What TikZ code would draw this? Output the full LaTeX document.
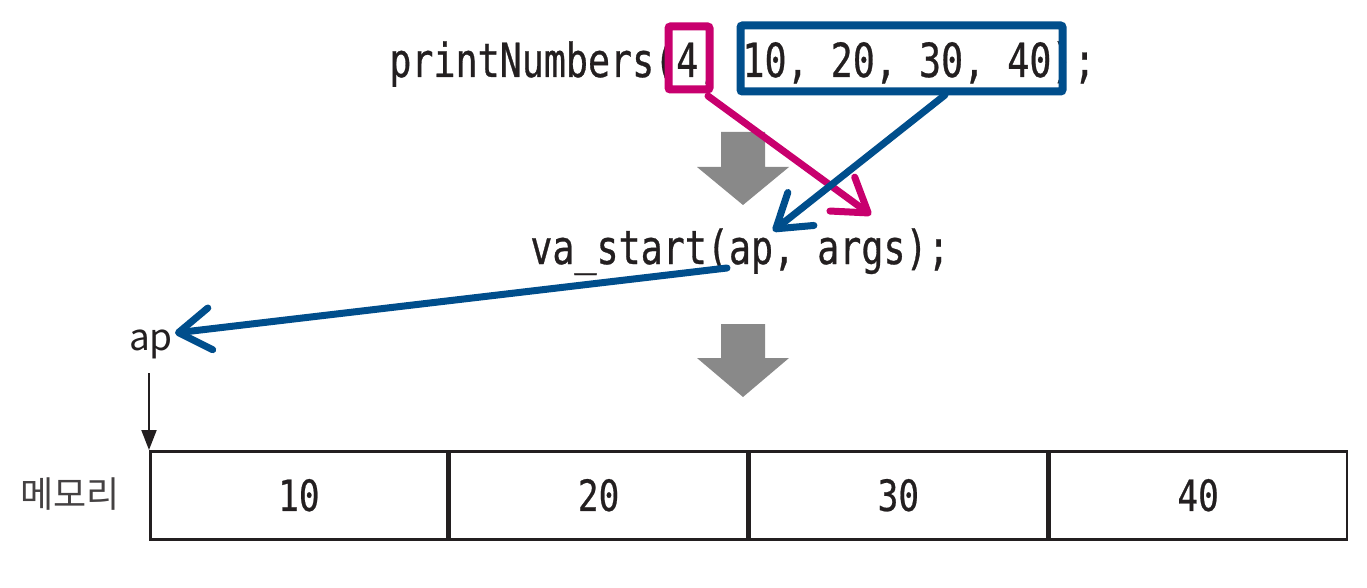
\documentclass[tikz,border=0pt]{standalone}
\usepackage{fontspec}
\usetikzlibrary{arrows.meta}
\newfontfamily\codefont[FakeStretch=0.78,FakeBold=0.6]{DejaVu Sans Mono}
\newfontfamily\numfont[FakeStretch=0.8,FakeBold=0.5]{DejaVu Sans Mono}
\newfontfamily\krfont{Noto Sans CJK KR}
\definecolor{ink}{RGB}{35,31,32}
\definecolor{pinkc}{RGB}{200,0,110}
\definecolor{bluec}{RGB}{0,78,140}
\definecolor{grayc}{RGB}{137,137,137}
\tikzset{
  code/.style={inner sep=0pt, text=ink, font=\codefont\fontsize{47}{50}\selectfont, anchor=base},
  cellnum/.style={draw=ink, line width=2.5pt, minimum width=297.25pt, minimum height=88pt, inner sep=0pt, text=ink, font=\numfont\fontsize{43}{46}\selectfont, anchor=north west},
  hl/.style={draw, line width=8pt, rounded corners=2pt, inner sep=0pt},
  barb/.style={line width=7pt, line cap=round, -{Straight Barb[length=32pt,width=42pt,round]}},
  grayarrow/.style={fill=grayc, draw=none},
  label/.style={inner sep=0pt, text=ink, font=\krfont\fontsize{38}{40}\selectfont, anchor=base}
}
\begin{document}
\begin{tikzpicture}[x=1pt,y=-1pt]
\useasboundingbox[fill=white] (0,0) rectangle (1367,588);

% code lines
\node[code] (pn) at (742.5,77) {printNumbers(4, 10, 20, 30, 40);};
\node[code] (va) at (740,264) {va\char"5F start(ap, args);};

% highlight boxes
\node[hl, draw=pinkc, minimum width=41pt, minimum height=63pt] (pbox) at (689,58) {};
\node[hl, draw=bluec, minimum width=322pt, minimum height=66pt] (bbox) at (901.5,58.5) {};

% gray flow arrows
\path[grayarrow] (721,132) -- (765,132) -- (765,167) -- (789,167) -- (743,205) -- (697,167) -- (721,167) -- cycle;
\path[grayarrow] (721,324) -- (765,324) -- (765,358) -- (789,358) -- (743,397) -- (697,358) -- (721,358) -- cycle;

% connector end points
\coordinate (pstart) at (708,96);
\coordinate (ptip) at (871,215);
\coordinate (bstart) at (945,95);
\coordinate (btip) at (773,231);
\coordinate (vaap) at (727,268);

% ap label
\node[label, font=\krfont\fontsize{37}{40}\selectfont] (ap) at (151,350) {ap};
\coordinate (aptip) at (175,333);

% colored connectors
\draw[barb, pinkc] (pstart) -- (ptip);
\draw[barb, bluec] (bstart) -- (btip);
\draw[barb, bluec] (vaap) -- (aptip);

% memory row
\node[cellnum] (m1) at (149,450) {10};
\node[cellnum] (m2) at (m1.north east) {20};
\node[cellnum] (m3) at (m2.north east) {30};
\node[cellnum] (m4) at (m3.north east) {40};
\node[label, font=\krfont\fontsize{36}{40}\selectfont, anchor=center, text=ink!85] (mem) at (70,494) {메모리};

% small pointer arrow
\coordinate (apfoot) at (149,373);
\draw[ink, line width=2pt, -{Triangle[length=20pt,width=15pt]}] (apfoot) -- (m1.north west);
\end{tikzpicture}
\end{document}
